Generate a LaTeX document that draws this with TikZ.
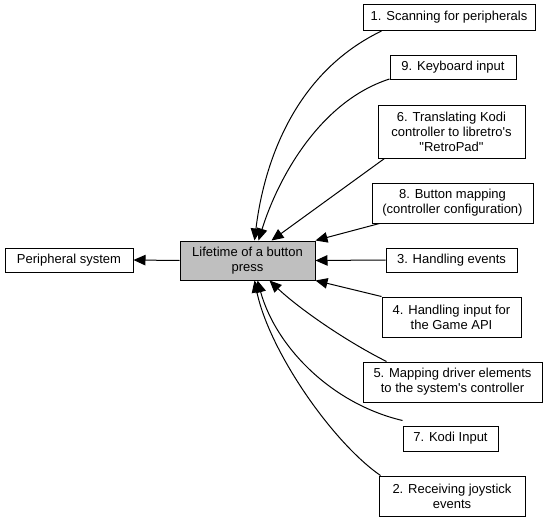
\documentclass[tikz,border=0pt]{standalone}
\usepackage{fontspec}
\setmainfont{Liberation Sans}
\usetikzlibrary{arrows.meta}
\definecolor{lifegray}{HTML}{BFBFBF}
\tikzset{
  box/.style={draw=black, line width=1pt, fill=white, inner sep=0pt, align=center,
    font=\fontsize{13pt}{15pt}\selectfont},
  conn/.style={line width=1pt, -{Triangle[length=12pt,width=10.5pt]}}
}
\begin{document}
\begin{tikzpicture}[x=1pt,y=-1pt]
\useasboundingbox (0,0) rectangle (547,522);
\node[box, minimum width=128pt, minimum height=24pt] (per) at (69,260) {Peripheral system};
\node[box, fill=lifegray, minimum width=135pt, minimum height=39pt] (life) at (247.5,260.5) {Lifetime of a button\\press};
\node[box, minimum width=172pt, minimum height=26pt] (n1) at (449,17.5) {1. Scanning for peripherals};
\node[box, minimum width=126pt, minimum height=24pt] (n9) at (453,67.5) {9. Keyboard input};
\node[box, minimum width=147pt, minimum height=53pt] (n6) at (451.5,131.5) {6. Translating Kodi\\controller to libretro\textquotesingle s\\\textquotedbl RetroPad\textquotedbl};
\node[box, minimum width=161pt, minimum height=40pt] (n8) at (452.5,203) {8. Button mapping\\(controller configuration)};
\node[box, minimum width=131pt, minimum height=24pt] (n3) at (451.5,260) {3. Handling events};
\node[box, minimum width=139pt, minimum height=40pt] (n4) at (451.5,317) {4. Handling input for\\the Game API};
\node[box, minimum width=179pt, minimum height=40pt] (n5) at (452.5,382) {5. Mapping driver elements\\to the system\textquotesingle s controller};
\node[box, minimum width=95pt, minimum height=25pt] (n7) at (450.5,438.5) {7. Kodi Input};
\node[box, minimum width=146pt, minimum height=40pt] (n2) at (452,496) {2. Receiving joystick\\events};

\draw[conn] (life.west) -- (per.east);
\draw[conn] ([xshift=19pt]n1.south west) .. controls (285.6,77.3) and (262,179) .. ([xshift=75pt]life.north west);
\draw[conn] ([yshift=1pt]n9.south west) .. controls (319.3,101.6) and (277.7,179.1) .. ([xshift=79pt]life.north west);
\draw[conn] ([xshift=7pt]n6.south west) -- ([xshift=92pt]life.north west);
\draw[conn] ([xshift=8pt]n8.south west) -- (life.north east);
\draw[conn] (n3.west) -- (life.east);
\draw[conn] (n4.north west) -- (life.south east);
\draw[conn] ([xshift=24pt]n5.north west) .. controls (340,338) and (295,305) .. ([xshift=90pt]life.south west);
\draw[conn] ([yshift=5pt]n7.north west) .. controls (330.7,403.6) and (275.6,346.1) .. ([xshift=78pt]life.south west);
\draw[conn] ([xshift=2pt]n2.north west) .. controls (332.2,442.1) and (269.2,350.9) .. ([xshift=75pt]life.south west);
\end{tikzpicture}
\end{document}
